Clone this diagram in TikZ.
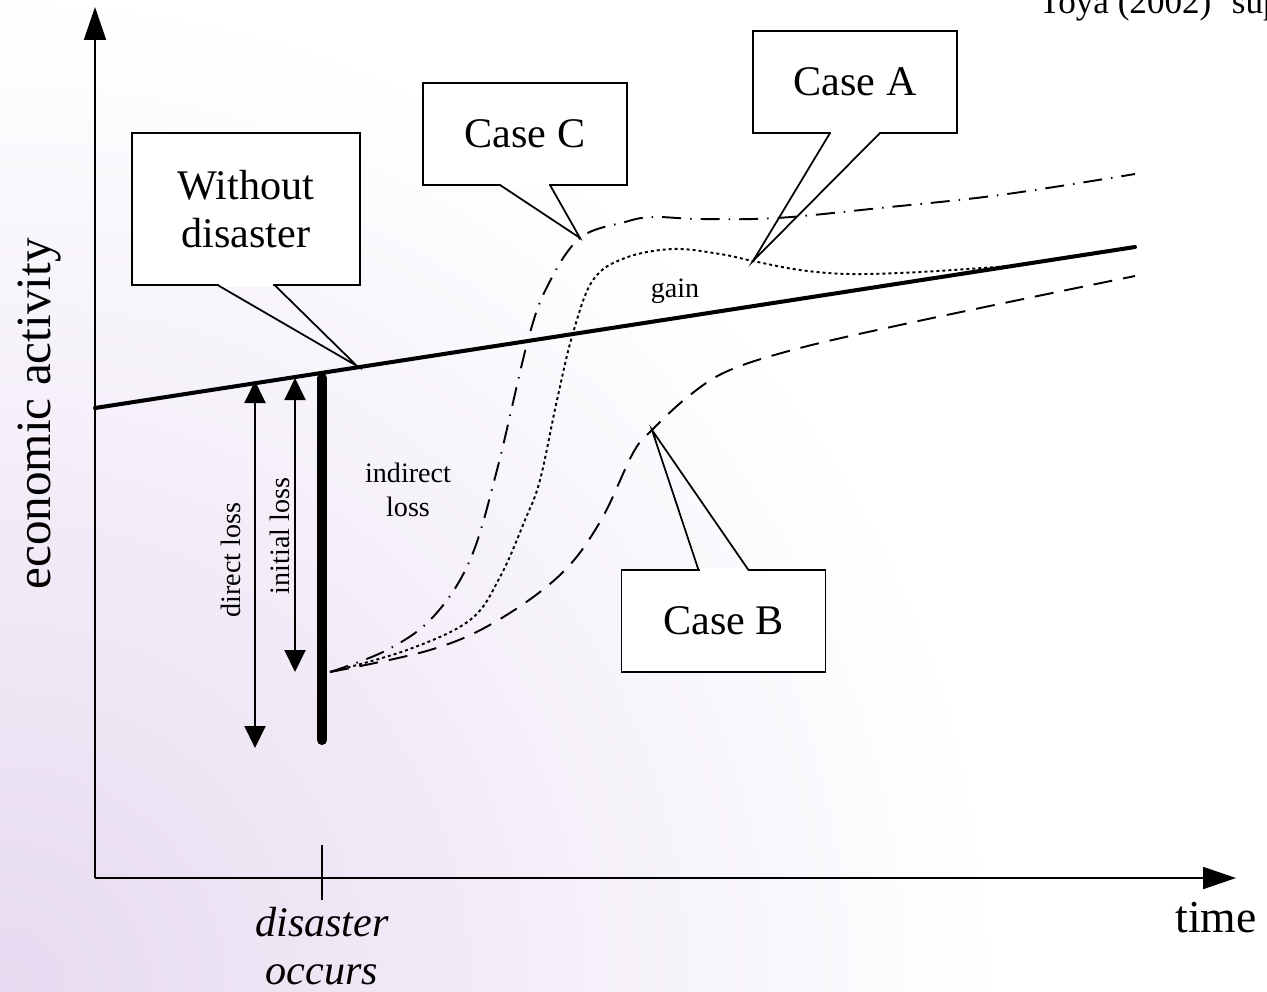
\documentclass[tikz,border=0pt]{standalone}
\usepackage{fontspec}
\setmainfont{Liberation Serif}
\usetikzlibrary{arrows.meta,calc,positioning}
\definecolor{haze}{RGB}{230,218,240}
\tikzset{callbox/.style={draw,fill=white,line width=1pt,outer sep=0pt,minimum width=4.08cm,minimum height=2.04cm,align=center,font=\fontsize{24}{27}\selectfont}}
\tikzset{wedge/.style={draw,line width=1pt}}
\tikzset{axis/.style={line width=1.1pt,-{Triangle[length=0.66cm,width=0.44cm]}}}
\tikzset{loss/.style={line width=1.1pt,{Triangle[length=0.44cm,width=0.42cm]}-{Triangle[length=0.44cm,width=0.42cm]}}}
\tikzset{small/.style={font=\fontsize{16}{19}\selectfont,align=center}}
\tikzset{curve/.style={line width=1.1pt}}
\tikzset{caseA/.style={curve,dash pattern=on 0.06cm off 0.06cm}}
\tikzset{caseB/.style={curve,dash pattern=on 0.38cm off 0.22cm}}
\tikzset{caseC/.style={curve,dash pattern=on 0.38cm off 0.18cm on 0.03cm off 0.18cm}}
\begin{document}
\begin{tikzpicture}[x=0.02cm,y=-0.02cm]
    \useasboundingbox (0,0) rectangle (1267,991);
    \begin{scope}
        \clip (0,0) rectangle (1267,991);
        \shade[inner color=haze,outer color=white] (0,991) circle (1000);
    \end{scope}

    \coordinate (O) at (95,878);
    \coordinate (ytip) at (95,7);
    \coordinate (xtip) at (1236,878);
    \coordinate (wl0) at (95,408);
    \coordinate (wl1) at (1135,247);
    \coordinate (rs) at (330,672);

    \node[callbox,minimum width=4.56cm,minimum height=3.04cm] (wd) at (246,209) {Without\\disaster};
    \node[callbox] (cc) at (525,134) {Case C};
    \node[callbox] (ca) at (855,82) {Case A};
    \node[callbox] (cb) at (723.5,621) {Case B};

    \coordinate (wdtip) at (357,366);
    \coordinate (cctip) at (580,238);
    \coordinate (catip) at (753,261);
    \coordinate (cbtip) at (652,430);

    \fill[white] ($(wd.south)+(-27,-2)$) rectangle ($(wd.south)+(27,2)$);
    \draw[wedge] ($(wd.south)+(-28.5,0)$) -- (wdtip) -- ($(wd.south)+(28.5,0)$);
    \fill[white] ($(cc.south)+(-24,-2)$) rectangle ($(cc.south)+(24,2)$);
    \draw[wedge] ($(cc.south)+(-25,0)$) -- (cctip) -- ($(cc.south)+(25,0)$);
    \fill[white] ($(ca.south)+(-24,-2)$) rectangle ($(ca.south)+(24,2)$);
    \draw[wedge] ($(ca.south)+(-25,0)$) -- (catip) -- ($(ca.south)+(25,0)$);
    \fill[white] ($(cb.north)+(-24,-2)$) rectangle ($(cb.north)+(24,2)$);
    \draw[wedge] ($(cb.north)+(-25,0)$) -- (cbtip) -- ($(cb.north)+(25,0)$);

    \draw[axis] (O) -- (ytip);
    \draw[axis] (O) -- (xtip);
    \draw[line width=1.1pt] (322,845) -- (322,900);

    \draw[line width=2.3pt,line cap=round] (wl0) -- (wl1);
    \draw[line width=5.7pt,line cap=round] (322,378) -- (322,740);
    \draw[loss] (255,381) -- (255,748);
    \draw[loss] (295,378) -- (295,672);

    \draw[caseC] plot[smooth,tension=0.6] coordinates {(rs) (387,650) (433,617) (470,560) (497,470) (528,340) (548,285) (580,238) (625,222) (653,217) (700,219) (777,218) (880,208) (1000,195) (1135,174)};
    \draw[caseA] plot[smooth,tension=0.6] coordinates {(rs) (407,650) (470,620) (500,577) (525,520) (540,480) (557,400) (573,333) (593,280) (625,258) (673,249) (720,254) (753,261) (800,270) (850,274) (920,272) (1010,266)};
    \draw[caseB] plot[smooth,tension=0.6] coordinates {(rs) (430,650) (495,622) (560,575) (600,522) (633,453) (652,430) (690,395) (730,370) (800,348) (900,325) (1033,297) (1135,276)};

    \node[small] (gain) at (675,291) {gain};
    \node[small] (ind) at (408,490) {indirect\\loss};
    \node[small,rotate=90] (dl) at (231,560) {direct loss};
    \node[small,rotate=90] (il) at (280,536) {initial loss};
    \node[font=\fontsize{28}{32}\selectfont,rotate=90] (ea) at (40,414) {economic activity};
    \node[font=\fontsize{26}{30}\selectfont] (tm) at (1216,918) {time};
    \node[font=\fontsize{24}{27}\selectfont\itshape,align=center] (occ) at (322,946) {disaster\\occurs};
    \node[font=\fontsize{20}{24}\selectfont,anchor=base west] (src) at (1033,13) {Toya (2002)’ sup};
\end{tikzpicture}
\end{document}
